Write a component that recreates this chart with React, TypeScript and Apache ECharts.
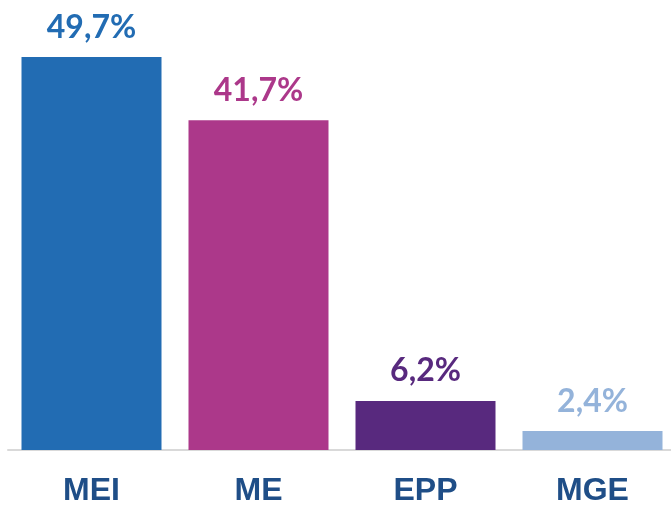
import React, { useEffect, useRef } from "react";
import * as echarts from "echarts";

const categories = ["MEI", "ME", "EPP", "MGE"];
const values = [49.7, 41.7, 6.2, 2.4];
const colors = ["#226CB3", "#AC388A", "#58297E", "#94B3DA"];

export default function App() {
  const ref = useRef<HTMLDivElement>(null);
  useEffect(() => {
    const chart = echarts.init(ref.current!, null, { renderer: "svg" });
    chart.setOption({
      animation: false,
      grid: { left: 8, right: 0, top: 57, bottom: 55, containLabel: false },
      xAxis: {
        type: "category",
        data: categories,
        axisLine: { show: true, lineStyle: { color: "#D9D9D9", width: 2 } },
        axisTick: { show: false },
        axisLabel: {
          color: "#1F4E87",
          fontFamily: "Liberation Sans",
          fontWeight: "bold",
          fontSize: 32,
          lineHeight: 24,
          margin: 27,
        },
      },
      yAxis: {
        type: "value",
        min: 0,
        max: 49.7,
        show: false,
        splitLine: { show: false },
      },
      series: [
        {
          type: "bar",
          barWidth: 140,
          data: values.map((v, i) => ({
            value: v,
            itemStyle: { color: colors[i] },
            label: { color: colors[i] },
          })),
          label: {
            show: true,
            position: "top",
            distance: 16,
            fontFamily: "Lato",
            fontWeight: "bold",
            fontSize: 32,
            formatter: (p: any) => String(p.value).replace(".", ",") + "%",
          },
        },
      ],
    });
    return () => chart.dispose();
  }, []);
  return (
    <div
      style={{
        position: "fixed",
        left: 0,
        top: 0,
        width: 671,
        height: 505,
        overflow: "hidden",
      }}
    >
      <div ref={ref} style={{ width: 676, height: 505 }} />
    </div>
  );
}
